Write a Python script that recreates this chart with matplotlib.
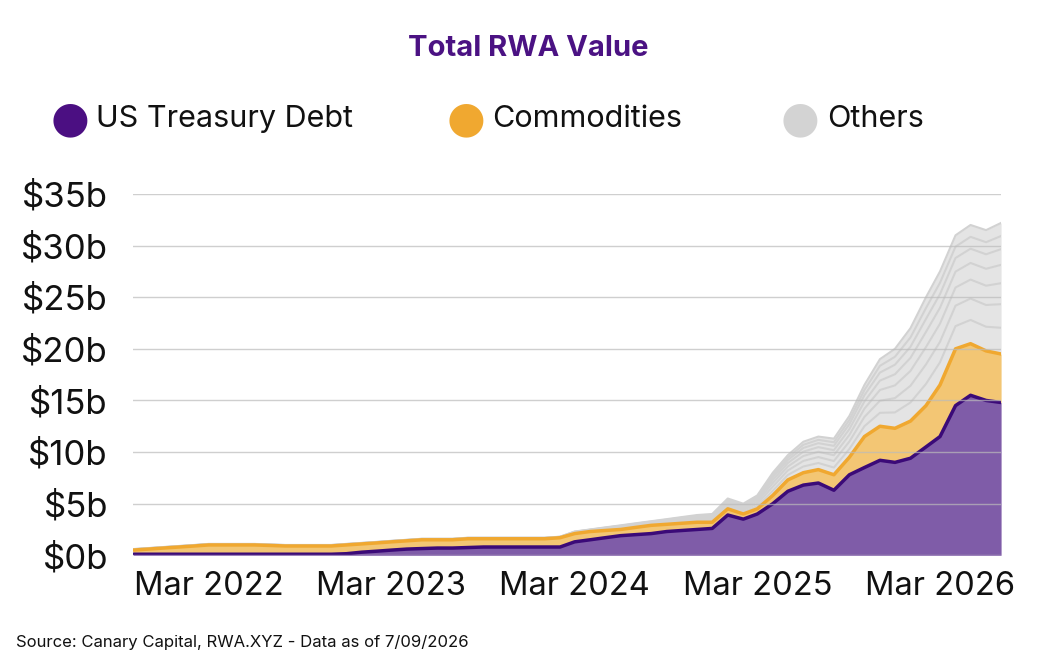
import matplotlib
matplotlib.use("Agg")
import matplotlib.pyplot as plt
import pandas as pd
import numpy as np

plt.rcParams['font.family'] = ['Inter', 'DejaVu Sans']

dates = pd.date_range("2021-10-01", "2026-07-01", freq="MS")
treasury = [0.1,0.1,0.1, 0.1,0.1,0.1,0.1,0.1,0.1,0.1,0.1,0.1,0.1,0.1,0.15,
            0.3,0.4,0.5,0.6,0.65,0.7,0.7,0.75,0.8,0.8,0.8,0.8,
            0.8,0.8,1.3,1.5,1.7,1.9,2.0,2.1,2.3,2.4,2.5,2.6,
            3.9,3.5,4.0,5.0,6.2,6.8,7.0,6.3,7.8,8.5,9.2,9.0,
            9.4,10.5,11.5,14.5,15.5,15.0,14.8]
commod_top = [0.5,0.6,0.7, 0.8,0.9,1.0,1.0,1.0,1.0,0.95,0.9,0.9,0.9,0.9,1.0,
              1.1,1.2,1.3,1.4,1.5,1.5,1.5,1.6,1.6,1.6,1.6,1.6,
              1.6,1.7,2.1,2.3,2.4,2.5,2.7,2.9,3.0,3.1,3.2,3.2,
              4.5,4.0,4.5,5.8,7.3,8.0,8.3,7.8,9.5,11.5,12.5,12.3,
              13.0,14.5,16.5,20.0,20.5,19.8,19.5]
total_top = [0.6,0.7,0.8, 0.9,1.0,1.1,1.1,1.1,1.1,1.05,1.0,1.0,1.0,1.0,1.1,
             1.2,1.3,1.4,1.5,1.6,1.6,1.6,1.7,1.7,1.7,1.7,1.7,
             1.7,1.8,2.3,2.5,2.7,2.9,3.1,3.3,3.5,3.7,3.9,4.0,
             5.5,5.0,5.8,8.0,9.7,11.0,11.5,11.3,13.5,16.5,19.0,20.0,
             22.0,25.0,27.5,31.0,32.0,31.5,32.2]
others_shares = [0.2, 0.18, 0.16, 0.14, 0.12, 0.1, 0.1]

treasury = np.array(treasury)
commod = np.array(commod_top) - treasury
others = np.array(total_top) - np.array(commod_top)

fig = plt.figure(figsize=(10.56, 6.69), dpi=100)
ax = fig.add_axes([0.126, 0.17, 0.822, 0.54])

ax.fill_between(dates, 0, treasury, color='#7f5ca8', lw=0, zorder=2)
ax.plot(dates, treasury, color='#3b0a78', lw=2.5, zorder=4)
ct = treasury + commod
ax.fill_between(dates, treasury, ct, color='#f3c674', lw=0, zorder=2)
ax.plot(dates, ct, color='#f0a830', lw=2.5, zorder=4)
base = ct.copy()
for s in others_shares:
    top = base + others * s
    ax.fill_between(dates, base, top, color='#e4e4e4', lw=0, zorder=2)
    ax.plot(dates, top, color='#d2d2d2', lw=1.5, zorder=3)
    base = top

for y in range(0, 36, 5):
    ax.axhline(y, color='#bbbbbb', lw=1, zorder=5, alpha=0.7)

ax.set_ylim(0, 35)
ax.set_xlim(dates[0], dates[-1])
ax.set_yticks(range(0, 36, 5))
ax.set_yticklabels([f"${v}b" for v in range(0, 36, 5)])
xt = pd.to_datetime(["2022-03-01", "2023-03-01", "2024-03-01", "2025-03-01", "2026-03-01"])
ax.set_xticks(xt)
ax.set_xticklabels([d.strftime("Mar %Y") for d in xt])
ax.tick_params(axis='x', length=0, labelsize=23.5, colors='#111111', pad=11)
ax.tick_params(axis='y', length=0, labelsize=25, colors='#111111', pad=18)
for sp in ax.spines.values():
    sp.set_visible(False)

fig.text(0.5, 0.927, "Total RWA Value", ha='center', va='center', fontsize=21,
         fontweight='bold', color='#4b1283')
leg = [("US Treasury Debt", '#4b0f82', 0.066), ("Commodities", '#f0a830', 0.441),
       ("Others", '#d3d3d3', 0.758)]
for lab, c, x in leg:
    fig.text(x, 0.822, "●", color=c, fontsize=32, va='center', ha='center',
             family=['DejaVu Sans'])
    fig.text(x + 0.025, 0.822, lab, fontsize=22, va='center', ha='left', color='#111111')

fig.text(0.015, 0.033, "Source: Canary Capital, RWA.XYZ - Data as of 7/09/2026",
         fontsize=12, color='#111111')
fig.savefig("out.png", dpi=100, facecolor='white')
